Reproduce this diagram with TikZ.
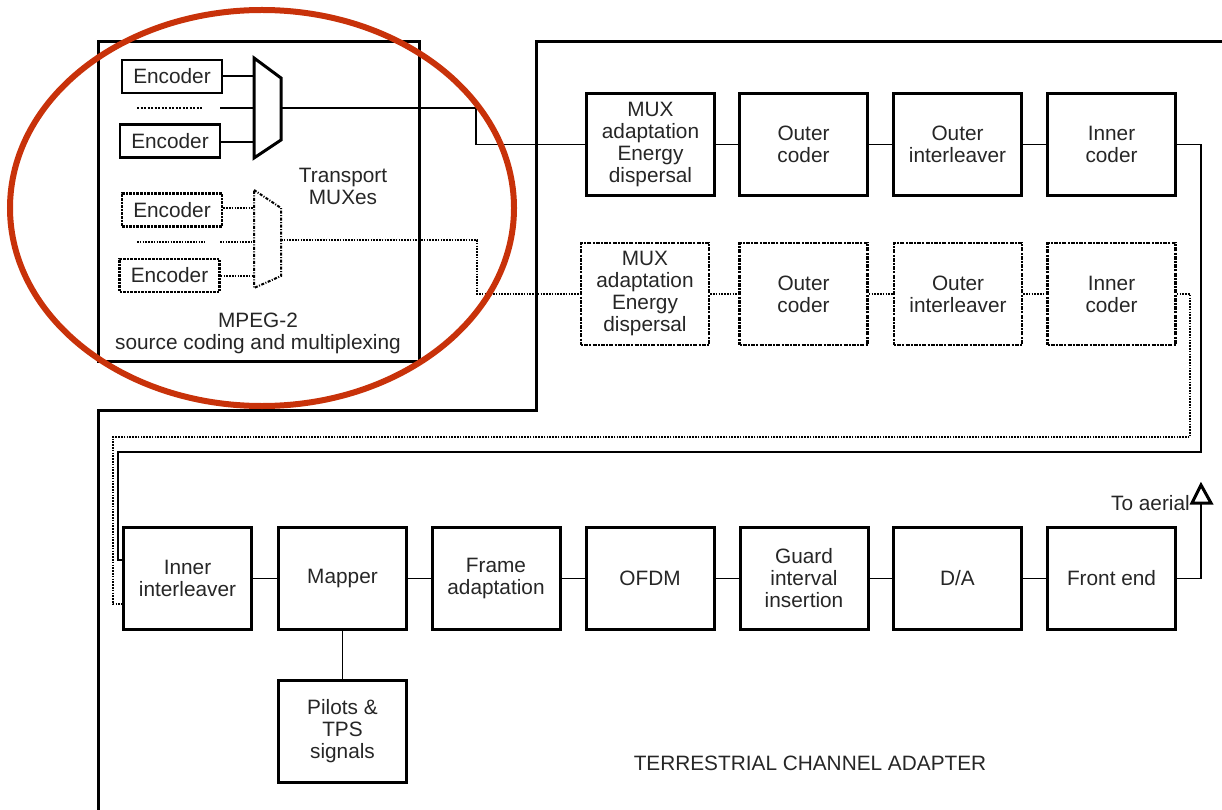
\documentclass[tikz,border=0pt]{standalone}
\usepackage{fontspec}
\setmainfont{Liberation Sans}
\begin{document}
\begin{tikzpicture}[x=1pt,y=-1pt,
  every node/.style={font=\fontsize{20.8}{22}\selectfont, text=black!85, inner sep=0pt, align=center},
  blk/.style={draw, line width=3pt, minimum width=128pt, minimum height=102pt},
  dblk/.style={draw, line width=2.5pt, dash pattern=on 2pt off 1.2pt on 4pt off 1.2pt, minimum width=128pt, minimum height=102pt},
  enc/.style={draw, line width=2.6pt, minimum width=100pt, minimum height=33pt},
  denc/.style={draw, line width=2.6pt, densely dotted, minimum width=100pt, minimum height=33pt},
  conn/.style={line width=1.9pt},
  dconn/.style={line width=2.3pt, dash pattern=on 1.6pt off 1.2pt},
  frame/.style={line width=3pt}]
\useasboundingbox (0,0) rectangle (1222,810);

% outlines
\node[draw, frame, minimum width=321pt, minimum height=319pt] (mpeg) at (258.5,201.5) {};
\draw[frame] (1224,42) -- (536,42) -- (536,410) -- (98,410) -- (98,812);

% encoders
\node[enc] (e1) at (172,76.5) {Encoder};
\node[enc] (e2) at (170,141) {Encoder};
\node[denc] (e3) at (172,210) {Encoder};
\node[denc] (e4) at (169.5,275.5) {Encoder};

% solid mux
\draw[line width=3pt, line join=miter] (254,58) -- (281,78) -- (281,140) -- (254,158) -- cycle;
\coordinate (m1a) at (254,76);
\coordinate (m1b) at (254,108);
\coordinate (m1c) at (254,142);
\coordinate (m1o) at (281,108);
\coordinate (d1s) at (137,108);
\coordinate (d1e) at (202,108);
\coordinate (l1s) at (220,108);
\draw[conn] (e1.east |- m1a) -- (m1a);
\draw[conn] (e2.east |- m1c) -- (m1c);
\draw[conn, dash pattern=on 2pt off 1.5pt] (d1s) -- (d1e);
\draw[conn] (l1s) -- (m1b);

% dashed mux
\draw[line width=2pt, dash pattern=on 3pt off 1.5pt on 1pt off 1.5pt] (254,190) -- (281,208) -- (281,276) -- (254,288) -- cycle;
\coordinate (m2a) at (254,208);
\coordinate (m2b) at (254,242);
\coordinate (m2c) at (254,276);
\coordinate (m2o) at (281,240);
\coordinate (d2s) at (137,242);
\coordinate (d2e) at (205,242);
\coordinate (l2s) at (220,242);
\draw[dconn] (e3.east |- m2a) -- (m2a);
\draw[dconn] (e4.east |- m2c) -- (m2c);
\draw[dconn] (d2s) -- (d2e);
\draw[dconn] (l2s) -- (m2b);

\node (tm) at (343,186) {Transport\\MUXes};
\node (mp) at (258,333) {MPEG-2\\source coding and multiplexing};

% top row
\node[blk] (ma) at (650.5,144.5) {MUX\\adaptation\\Energy\\dispersal};
\node[blk] (oc) at (803.5,144.5) {Outer\\coder};
\node[blk] (oi) at (957.5,144.5) {Outer\\interleaver};
\node[blk] (ic) at (1111.5,144.5) {Inner\\coder};
% dashed row
\node[dblk] (dma) at (645,294) {MUX\\adaptation\\Energy\\dispersal};
\node[dblk] (doc) at (803.5,294) {Outer\\coder};
\node[dblk] (doi) at (958,294) {Outer\\interleaver};
\node[dblk] (dic) at (1111.5,294) {Inner\\coder};

\coordinate (k1) at (476,108);
\coordinate (k2) at (477,240);
\draw[conn] (m1o) -- (k1) |- (ma.west);
\draw[dconn] (m2o) -- (k2) |- (dma.west);
\draw[conn] (ma) -- (oc);
\draw[conn] (oc) -- (oi);
\draw[conn] (oi) -- (ic);
\draw[dconn] (dma) -- (doc);
\draw[dconn] (doc) -- (doi);
\draw[dconn] (doi) -- (dic);

% bottom row
\node[blk] (ii) at (187.5,578.5) {Inner\\interleaver};
\node[blk] (mpr) at (342.5,578.5) {Mapper};
\node[blk] (fa) at (496,578.5) {Frame\\adaptation};
\node[blk] (ofdm) at (650,578.5) {OFDM};
\node[blk] (gi) at (804,578.5) {Guard\\interval\\insertion};
\node[blk] (da) at (957.5,578.5) {D/A};
\node[blk] (fe) at (1111.5,578.5) {Front end};
\node[blk] (pil) at (342.5,731) {Pilots \&\\TPS\\signals};

\draw[conn] (ii) -- (mpr);
\draw[conn] (mpr) -- (fa);
\draw[conn] (fa) -- (ofdm);
\draw[conn] (ofdm) -- (gi);
\draw[conn] (gi) -- (da);
\draw[conn] (da) -- (fe);
\draw[conn] (mpr) -- (pil);

% feedback paths
\coordinate (s1) at (1201,452);
\coordinate (s2) at (118,560);
\draw[conn] (ic.east) -| (s1) -| (s2) -- (s2 -| ii.west);
\coordinate (t1) at (1190,437);
\coordinate (t2) at (113,604);
\draw[dconn] (dic.east) -| (t1) -| (t2) -- (t2 -| ii.west);

% aerial
\coordinate (ae) at (1201,503);
\draw[conn] (fe.east) -| (ae);
\draw[line width=3pt, line join=miter] (1192,503) -- (1201,485) -- (1211,503) -- cycle;
\node[anchor=south east] (ta) at (1190,511) {To aerial};

\node (tca) at (810,763) {TERRESTRIAL CHANNEL ADAPTER};

% red ellipse
\draw[line width=6pt, draw={rgb,255:red,200;green,50;blue,10}] (262,208) ellipse [x radius=252, y radius=198];
\end{tikzpicture}
\end{document}
